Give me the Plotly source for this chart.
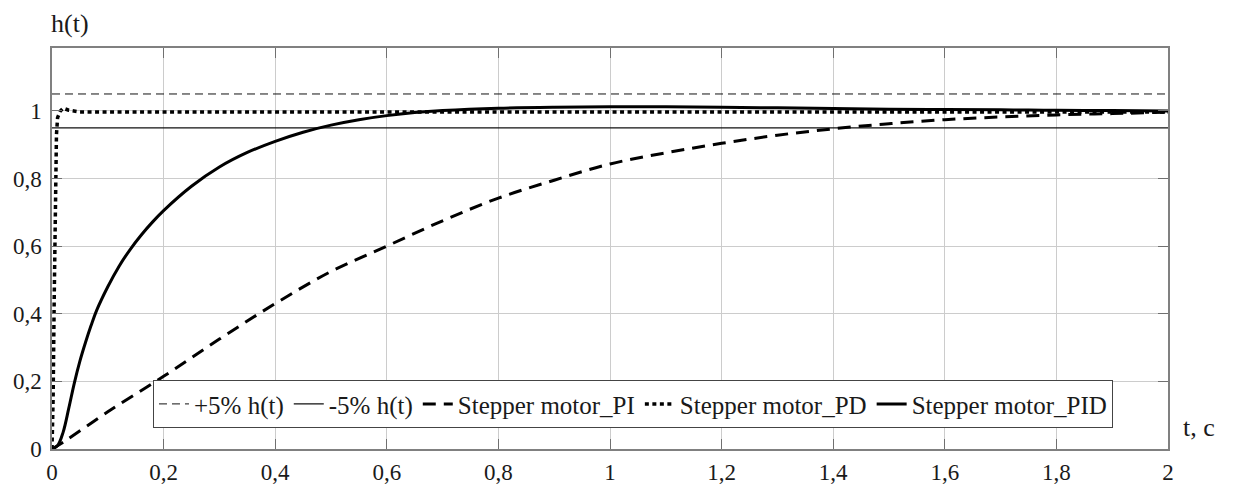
import plotly.graph_objects as go

# ---- data ----
band_t = [0, 2]
upper_band = [1.05, 1.05]
lower_band = [0.95, 0.95]

pi_t = [0, 0.02, 0.1, 0.2, 0.3, 0.4, 0.5, 0.6, 0.7, 0.8, 0.9, 1.0, 1.1, 1.2,
        1.3, 1.4, 1.5, 1.6, 1.7, 1.8, 1.9, 2.0]
pi_h = [0, 0.02, 0.11, 0.215, 0.325, 0.43, 0.525, 0.60, 0.675, 0.742, 0.795,
        0.843, 0.876, 0.904, 0.928, 0.947, 0.962, 0.974, 0.982, 0.988, 0.992, 0.996]

pd_t = [0, 0.002, 0.004, 0.006, 0.008, 0.01, 0.015, 0.02, 0.03, 0.05, 0.1,
        0.5, 1.0, 1.5, 2.0]
pd_h = [0, 0.15, 0.45, 0.75, 0.93, 0.98, 1.0, 1.008, 1.002, 0.997, 0.997,
        0.997, 0.997, 0.997, 0.997]

pid_t = [0, 0.01, 0.02, 0.03, 0.04, 0.05, 0.06, 0.07, 0.08, 0.1, 0.12, 0.14,
         0.16, 0.18, 0.2, 0.25, 0.3, 0.35, 0.4, 0.45, 0.5, 0.55, 0.6, 0.65,
         0.7, 0.8, 0.9, 1.0, 1.1, 1.2, 1.3, 1.4, 1.5, 1.6, 1.7, 1.8, 1.9, 2.0]
pid_h = [0, 0.01, 0.05, 0.12, 0.195, 0.26, 0.315, 0.365, 0.41, 0.48, 0.54, 0.59,
         0.633, 0.671, 0.705, 0.777, 0.834, 0.877, 0.91, 0.937, 0.958, 0.974,
         0.986, 0.995, 1.001, 1.008, 1.011, 1.012, 1.012, 1.011, 1.009, 1.007,
         1.005, 1.004, 1.003, 1.002, 1.001, 1.0]

x_ticks = [0, 0.2, 0.4, 0.6, 0.8, 1.0, 1.2, 1.4, 1.6, 1.8, 2.0]
x_labels = ["0", "0,2", "0,4", "0,6", "0,8", "1", "1,2", "1,4", "1,6", "1,8", "2"]
y_ticks = [0, 0.2, 0.4, 0.6, 0.8, 1.0]
y_labels = ["0", "0,2", "0,4", "0,6", "0,8", "1"]

FONT = "Liberation Serif, Times New Roman, serif"
TXT = "#1a1a1a"

fig = go.Figure()
fig.add_trace(go.Scatter(x=band_t, y=upper_band, mode="lines", name="+5% h(t)",
                         line=dict(color="#111111", width=1, dash="8px,5px")))
fig.add_trace(go.Scatter(x=band_t, y=lower_band, mode="lines", name="-5% h(t)",
                         line=dict(color="#111111", width=1.2)))
fig.add_trace(go.Scatter(x=pi_t, y=pi_h, mode="lines", name="Stepper motor_PI",
                         line=dict(color="black", width=3, dash="13px,8px", shape="spline")))
fig.add_trace(go.Scatter(x=pd_t, y=pd_h, mode="lines", name="Stepper motor_PD",
                         line=dict(color="black", width=3.5, dash="4px,3.5px")))
fig.add_trace(go.Scatter(x=pid_t, y=pid_h, mode="lines", name="Stepper motor_PID",
                         line=dict(color="black", width=3, shape="spline")))

axis_common = dict(showline=True, linecolor="#808080", linewidth=1.5, mirror="ticks",
                   ticks="inside", ticklen=10, tickcolor="#707070", tickwidth=1,
                   showgrid=True, gridcolor="#cccccc", gridwidth=1, zeroline=False,
                   automargin=False,
                   tickfont=dict(family=FONT, size=23, color=TXT))

fig.update_xaxes(range=[0, 2], tickvals=x_ticks, ticktext=x_labels,
                 ticklabelstandoff=2, **axis_common)
fig.update_yaxes(range=[0, 1.186], tickvals=y_ticks, ticktext=y_labels,
                 ticklabelstandoff=4, **axis_common)

fig.add_annotation(text="h(t)", xref="paper", yref="paper", x=-0.003, y=1.02,
                   xanchor="left", yanchor="bottom", showarrow=False,
                   font=dict(family=FONT, size=26, color=TXT))
fig.add_annotation(text="t, c", xref="paper", yref="paper", x=1.012, y=0.053,
                   xanchor="left", yanchor="middle", showarrow=False,
                   font=dict(family=FONT, size=26, color=TXT))

fig.update_layout(
    width=1235, height=486,
    margin=dict(l=52, r=67, t=48, b=37),
    plot_bgcolor="white", paper_bgcolor="white",
    font=dict(family=FONT, size=23, color=TXT),
    legend=dict(orientation="h", x=0.0905, y=0.052, xanchor="left", yanchor="bottom",
                bgcolor="white", bordercolor="#444444", borderwidth=1,
                font=dict(family=FONT, size=25, color=TXT),
                itemwidth=30, tracegroupgap=0),
    showlegend=True,
)

fig.write_html("out.html", config={"displayModeBar": False},
               post_script="document.body.style.margin='0px';document.body.style.overflow='hidden';")
